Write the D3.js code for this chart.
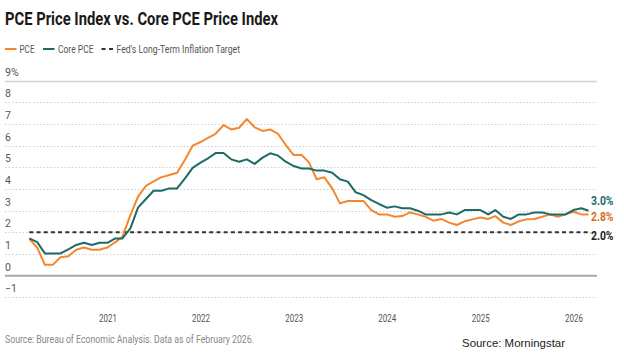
<!DOCTYPE html>
<html><head><meta charset="utf-8">
<script src="https://cdn.jsdelivr.net/npm/d3@7"></script>
<style>html,body{margin:0;padding:0;background:#fff;}svg{display:block;}</style>
</head><body><svg id="c" width="624" height="358"></svg>
<script>
const startMonth = "2020-03";
const endMonth = "2026-03";
const pce = [1.7,1.3,0.5,0.5,0.85,0.9,1.2,1.3,1.2,1.2,1.3,1.55,1.8,2.8,3.65,4.15,4.35,4.55,4.65,4.75,5.35,6.0,6.17,6.37,6.55,6.95,6.75,6.83,7.23,6.85,6.68,6.75,6.54,6.03,5.57,5.57,5.24,4.45,4.54,4.03,3.34,3.45,3.45,3.45,3.03,2.83,2.83,2.72,2.75,2.92,2.83,2.72,2.54,2.62,2.45,2.34,2.51,2.6,2.69,2.62,2.75,2.45,2.34,2.51,2.6,2.62,2.72,2.83,2.72,2.83,2.95,2.83,2.83];
const core = [1.72,1.55,1.03,1.03,1.03,1.22,1.42,1.52,1.42,1.52,1.52,1.72,1.72,2.18,3.14,3.54,3.92,3.92,4.03,4.03,4.49,4.98,5.22,5.43,5.66,5.66,5.37,5.26,5.37,5.16,5.45,5.65,5.54,5.26,5.06,4.95,4.95,4.85,4.85,4.75,4.45,4.34,3.85,3.72,3.49,3.31,3.14,3.2,3.11,3.11,3.0,2.83,2.83,2.83,2.92,2.83,3.03,3.03,3.03,2.83,3.03,2.72,2.62,2.83,2.83,2.92,2.92,2.83,2.83,2.83,3.03,3.11,3.0];
const target = 2.0;
const yTicks = [-1,0,1,2,3,4,5,6,7,8,9];
const yearLabels = ["2021","2022","2023","2024","2025","2026"];
const endLabels = ["3.0%","2.8%","2.0%"];

const parse = d3.timeParse("%Y-%m");
const months = d3.timeMonth.range(parse(startMonth), d3.timeMonth.offset(parse(endMonth),1));

const svg = d3.select("#c");
const COND = "Roboto, 'Liberation Sans', sans-serif";
const x = d3.scaleTime().domain([months[0], months[months.length-1]]).range([29.3, 588.5]);
const y = d3.scaleLinear().domain([0, 9]).range([275.7, 80.7]);

// Title
svg.append("text").attr("x",5).attr("y",25).attr("font-family",COND)
  .attr("font-weight","700").attr("font-size",17.5).attr("fill","#1a1a1a")
  .attr("textLength",273).attr("lengthAdjust","spacingAndGlyphs")
  .text("PCE Price Index vs. Core PCE Price Index");

// Legend
const lg = svg.append("g").attr("font-family",COND).attr("font-size",11).attr("fill","#555");
lg.append("line").attr("x1",5).attr("x2",16.5).attr("y1",49).attr("y2",49).attr("stroke","#f5862e").attr("stroke-width",2);
lg.append("text").attr("x",19.5).attr("y",52.5).attr("textLength",15).attr("lengthAdjust","spacingAndGlyphs").text("PCE");
lg.append("line").attr("x1",43).attr("x2",54.5).attr("y1",49).attr("y2",49).attr("stroke","#1c6b67").attr("stroke-width",2);
lg.append("text").attr("x",58).attr("y",52.5).attr("textLength",35.5).attr("lengthAdjust","spacingAndGlyphs").text("Core PCE");
lg.append("line").attr("x1",101.5).attr("x2",113).attr("y1",49).attr("y2",49).attr("stroke","#333").attr("stroke-width",2).attr("stroke-dasharray","4,3.5");
lg.append("text").attr("x",116.5).attr("y",52.5).attr("textLength",123.5).attr("lengthAdjust","spacingAndGlyphs").text("Fed's Long-Term Inflation Target");

// Gridlines
const grid = svg.append("g");
yTicks.forEach(t => {
  const gy = Math.round(y(t)) + 0.5;
  if (t === 0) return;
  grid.append("line").attr("x1",5).attr("x2",597).attr("y1",gy).attr("y2",gy)
    .attr("stroke", t===9 ? "#d4d4d4" : "#cfcfcf")
    .attr("stroke-width", t===9 ? 1.5 : 1)
    .attr("stroke-dasharray", t===9 ? null : "1.5,2");
});
// y labels
const yl = svg.append("g").attr("font-family",COND).attr("font-size",10.5).attr("fill","#555");
yTicks.forEach(t => {
  yl.append("text").attr("x",5).attr("y",y(t)-5).text(t===9 ? "9%" : (t<0 ? "\u2212"+Math.abs(t) : t));
});
// zero line
svg.append("line").attr("x1",5).attr("x2",597).attr("y1",y(0)).attr("y2",y(0)).attr("stroke","#a8a8a8").attr("stroke-width",2);

// X axis labels
const xAxis = d3.axisBottom(x)
  .tickValues(yearLabels.map(s => parse(s+"-01")))
  .tickFormat(d3.timeFormat("%Y")).tickSize(0).tickPadding(0);
const xg = svg.append("g").attr("transform","translate(0,315)").call(xAxis);
xg.select(".domain").remove();
xg.selectAll("text").attr("font-family",COND).attr("font-size",10.5).attr("fill","#555")
  .attr("dy","0.7em").attr("textLength",18).attr("lengthAdjust","spacingAndGlyphs");

// Target line
svg.append("line").attr("x1",x(months[0])).attr("x2",x(months[months.length-1]))
  .attr("y1",y(target)).attr("y2",y(target)).attr("stroke","#333").attr("stroke-width",2)
  .attr("stroke-dasharray","4,3.2");

// Lines
const line = d3.line().x((d,i)=>x(months[i])).y(d=>y(d)).curve(d3.curveLinear);
svg.append("path").datum(pce).attr("d",line).attr("fill","none").attr("stroke","#f5862e").attr("stroke-width",2).attr("stroke-linejoin","round");
svg.append("path").datum(core).attr("d",line).attr("fill","none").attr("stroke","#1c6b67").attr("stroke-width",2).attr("stroke-linejoin","round");

// End labels
const el = svg.append("g").attr("font-family",COND).attr("font-weight","700").attr("font-size",12);
el.append("text").attr("x",591).attr("y",204.5).attr("fill","#1c6b67").attr("textLength",22.5).attr("lengthAdjust","spacingAndGlyphs").text(endLabels[0]);
el.append("text").attr("x",591).attr("y",221).attr("fill","#d96b1e").attr("textLength",22.5).attr("lengthAdjust","spacingAndGlyphs").text(endLabels[1]);
el.append("text").attr("x",591).attr("y",239.5).attr("fill","#222").attr("textLength",22.5).attr("lengthAdjust","spacingAndGlyphs").text(endLabels[2]);

// Sources
svg.append("text").attr("x",5).attr("y",342.5).attr("font-family",COND).attr("font-size",10.5).attr("fill","#888")
  .attr("textLength",249).attr("lengthAdjust","spacingAndGlyphs")
  .text("Source: Bureau of Economic Analysis. Data as of February 2026.");
svg.append("text").attr("x",462).attr("y",346.5).attr("font-family","'Liberation Sans', Arial, sans-serif").attr("font-size",11.5).attr("fill","#222")
  .attr("textLength",103).attr("lengthAdjust","spacingAndGlyphs")
  .text("Source: Morningstar");
</script></body></html>
